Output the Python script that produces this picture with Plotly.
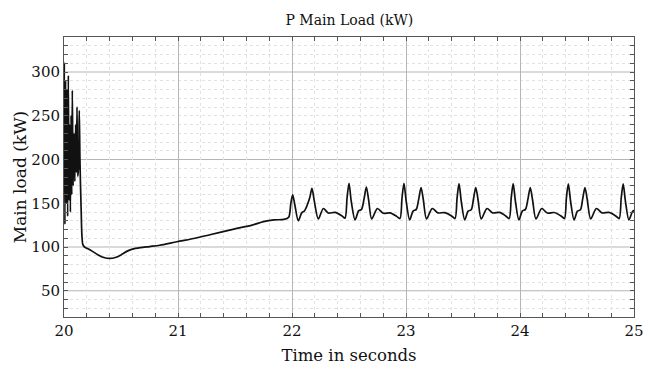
import plotly.graph_objects as go

# ---- data ----
time_s = [
    20.000, 20.003, 20.008, 20.014, 20.020, 20.026, 20.032, 20.038, 20.044, 20.050,
    20.056, 20.062, 20.068, 20.073, 20.080, 20.088, 20.095, 20.102, 20.108, 20.114,
    20.120, 20.127, 20.134, 20.140, 20.150, 20.165, 20.180, 20.210, 20.250, 20.300,
    20.350, 20.400, 20.450, 20.500, 20.550, 20.600, 20.670, 20.750, 20.840, 20.990,
    21.150, 21.280, 21.490, 21.650, 21.750, 21.840, 21.930,
    21.971, 21.990, 22.006, 22.025, 22.055, 22.085, 22.110, 22.155, 22.175, 22.195, 22.231, 22.275, 22.318, 22.377, 22.436,
    22.465, 22.483, 22.500, 22.520, 22.553, 22.585, 22.610, 22.632, 22.652, 22.672, 22.699, 22.749, 22.800, 22.860, 22.918,
    22.947, 22.965, 22.982, 23.002, 23.032, 23.062, 23.090, 23.112, 23.132, 23.152, 23.180, 23.230, 23.280, 23.340, 23.400,
    23.430, 23.448, 23.465, 23.485, 23.515, 23.545, 23.572, 23.592, 23.612, 23.632, 23.660, 23.710, 23.760, 23.820, 23.875,
    23.905, 23.923, 23.940, 23.960, 23.990, 24.020, 24.048, 24.070, 24.090, 24.110, 24.140, 24.190, 24.240, 24.300, 24.360,
    24.390, 24.407, 24.424, 24.444, 24.474, 24.504, 24.530, 24.550, 24.570, 24.590, 24.620, 24.670, 24.720, 24.780, 24.840,
    24.870, 24.888, 24.905, 24.925, 24.955, 24.985, 25.000,
]
load_kw = [
    200, 311, 126, 290, 150, 280, 135, 296, 153, 240,
    140, 250, 160, 279, 170, 230, 175, 240, 185, 260,
    181, 190, 256, 200, 145, 103, 100, 98, 95, 91,
    88, 87, 88, 91, 95, 97.5, 99.2, 100.5, 102, 106,
    110, 114, 120.5, 125, 129, 131, 131.5,
    134, 150, 159.5, 148, 130, 139, 141.5, 156, 167, 153, 132, 144, 138.8, 139.5, 135.8,
    133, 156, 172.7, 152, 131, 141.5, 143, 155, 168.6, 154, 132, 144, 138.6, 139, 135,
    132.5, 156, 172.7, 152, 131, 141, 143, 155, 168, 154, 132, 144, 139, 139.3, 135.5,
    132.5, 156, 172.5, 152, 131, 141, 142.5, 155, 168, 154, 132, 144, 139, 139.5, 135.5,
    132.5, 156, 172.5, 152, 131, 141, 143, 155, 168, 154, 132, 144, 138.8, 139.4, 135.5,
    132.5, 156, 172.3, 152, 131, 141, 142.5, 155, 167.8, 154, 132, 144, 139, 139.5, 135.5,
    132.5, 156, 172.3, 152, 131, 140, 142,
]

x_ticks = [20, 21, 22, 23, 24, 25]
y_ticks = [50, 100, 150, 200, 250, 300]
y_solid_grid = [50, 100, 200, 300]
y_dotted_grid = [v for v in range(30, 340, 10) if v not in y_solid_grid]

FONT = "DejaVu Serif"

fig = go.Figure()
fig.add_trace(go.Scatter(
    x=time_s, y=load_kw, mode="lines",
    line=dict(color="#111111", width=1.7, shape="spline", smoothing=0.8),
    showlegend=False, hoverinfo="skip",
))

for yv in y_solid_grid:
    fig.add_shape(type="line", xref="paper", yref="y", x0=0, x1=1, y0=yv, y1=yv,
                  line=dict(color="#b5b5b5", width=1), layer="below")

fig.update_layout(
    width=668, height=374,
    margin=dict(l=64, r=34, t=37, b=52),
    paper_bgcolor="white", plot_bgcolor="white",
    font=dict(family=FONT, color="#111111"),
    title=dict(text="P Main Load (kW)", x=0.523, xanchor="center",
               y=1 - 20 / 374, yanchor="middle", yref="container",
               font=dict(family=FONT, size=14)),
)

fig.update_xaxes(
    range=[20, 25], tickvals=x_ticks, ticktext=[str(v) for v in x_ticks],
    showline=True, linecolor="#555555", linewidth=1, mirror="ticks",
    ticks="inside", ticklen=4, tickcolor="#555555",
    tickfont=dict(family=FONT, size=15),
    showgrid=True, gridcolor="#b5b5b5", gridwidth=1,
    minor=dict(dtick=0.2, tick0=20, ticks="inside", ticklen=4, tickcolor="#555555",
               showgrid=True, gridcolor="#e2e2e2", griddash="dot", gridwidth=1),
    zeroline=False,
    title=dict(text="Time in seconds", font=dict(family=FONT, size=16.5), standoff=10),
)
fig.update_yaxes(
    range=[20, 340], tickvals=y_ticks, ticktext=[str(v) for v in y_ticks],
    showline=True, linecolor="#555555", linewidth=1, mirror="ticks",
    ticks="inside", ticklen=4, tickcolor="#555555",
    tickfont=dict(family=FONT, size=15),
    showgrid=False,
    minor=dict(tickvals=y_dotted_grid, ticks="inside", ticklen=4, tickcolor="#555555",
               showgrid=True, gridcolor="#e2e2e2", griddash="dot", gridwidth=1),
    zeroline=False,
    title=dict(text="Main load (kW)", font=dict(family=FONT, size=17), standoff=0),
)

fig.write_html("out.html")
